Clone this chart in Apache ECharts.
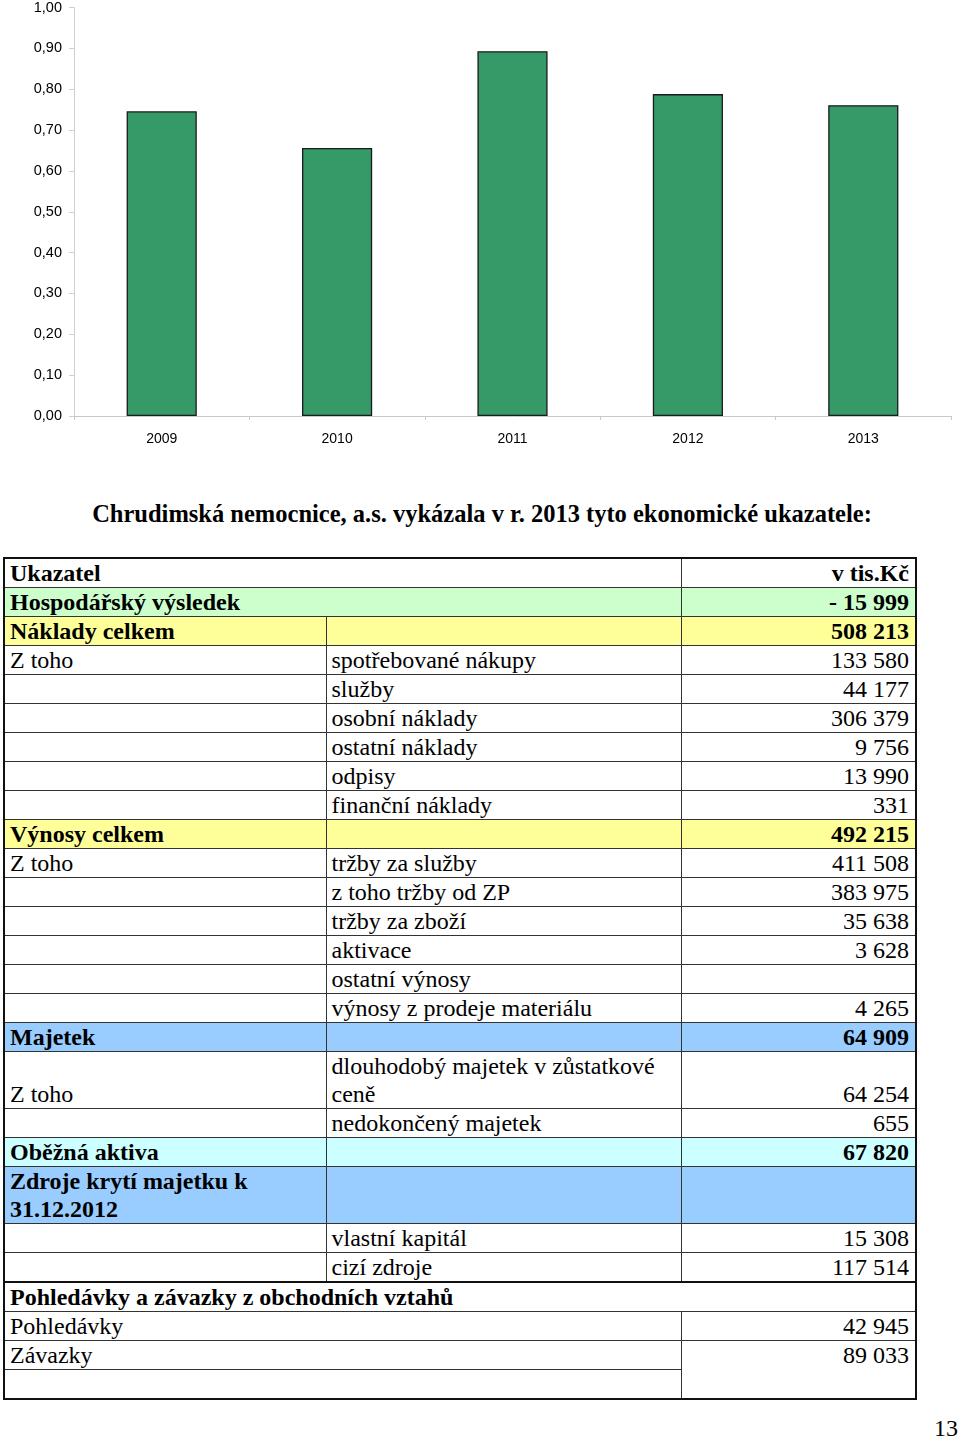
<!DOCTYPE html>
<html>
<head>
<meta charset="utf-8">
<title>Chrudimská nemocnice</title>
<script src="https://cdn.jsdelivr.net/npm/echarts/dist/echarts.min.js"></script>
<style>
  body { margin: 0; width: 960px; height: 1439px; position: relative; background: #fff; overflow: hidden; }
  #chart { position: absolute; left: 0; top: 0; width: 960px; height: 470px; }
  .title {
    position: absolute; left: 0; top: 500px; width: 964px; text-align: center;
    font: bold 24.5px "Liberation Serif", "Times New Roman", serif; color: #000;
  }
  table.data {
    position: absolute; left: 3px; top: 557px; width: 912px;
    border-collapse: collapse; table-layout: fixed;
    border: 2px solid #111;
    font: 24px "Liberation Serif", "Times New Roman", serif; color: #000;
  }
  table.data td {
    border: 1px solid #333; padding: 0 6px 0 5px; line-height: 28px; height: 28px;
    white-space: normal; overflow: hidden;
  }
  table.data td.num { text-align: right; }
  table.data tr.b td { font-weight: bold; }
  table.data tr.green td { background: #ccffcc; }
  table.data tr.yellow td { background: #ffff99; }
  table.data tr.blue td { background: #99ccff; }
  table.data tr.cyan td { background: #ccffff; }
  table.data tr.section td { border-top: 2px solid #111; }
  table.data td.bottom { vertical-align: bottom; }
  table.data td.top { vertical-align: top; }
  .page { position: absolute; right: 2px; top: 1415px; font: 24px "Liberation Serif", "Times New Roman", serif; }
</style>
</head>
<body>
<div id="chart"></div>
<div class="title">Chrudimská nemocnice, a.s. vykázala v r. 2013 tyto ekonomické ukazatele:</div>
<table class="data" id="tbl">
  <colgroup><col style="width:322px"><col style="width:355px"><col style="width:235px"></colgroup>
  <tbody></tbody>
</table>
<div class="page">13</div>

<script>
// bar chart data
const years = ['2009', '2010', '2011', '2012', '2013']
const ratios = [0.746, 0.656, 0.893, 0.788, 0.761]
const yMin = 0
const yMax = 1
const yStep = 0.1

// table data
const rowLabels = [
  'Ukazatel', 'Hospodářský výsledek', 'Náklady celkem', 'Z toho', '', '', '', '', '',
  'Výnosy celkem', 'Z toho', '', '', '', '', '',
  'Majetek', 'Z toho', '', 'Oběžná aktiva', 'Zdroje krytí majetku k 31.12.2012', '', '',
  'Pohledávky a závazky z obchodních vztahů', 'Pohledávky', 'Závazky', ''
]
const rowSubLabels = [
  '', '', '', 'spotřebované nákupy', 'služby', 'osobní náklady', 'ostatní náklady', 'odpisy', 'finanční náklady',
  '', 'tržby za služby', 'z toho tržby od ZP', 'tržby za zboží', 'aktivace', 'ostatní výnosy', 'výnosy z prodeje materiálu',
  '', 'dlouhodobý majetek v zůstatkové ceně', 'nedokončený majetek', '', '', 'vlastní kapitál', 'cizí zdroje',
  '', '', '', ''
]
const rowValues = [
  'v tis.Kč', '- 15 999', '508 213', '133 580', '44 177', '306 379', '9 756', '13 990', '331',
  '492 215', '411 508', '383 975', '35 638', '3 628', '', '4 265',
  '64 909', '64 254', '655', '67 820', '', '15 308', '117 514',
  '', '42 945', '89 033', ''
]
// row look: how cells merge and which fill they get
const rowKinds = [
  'head', 'green', 'yellow', '', '', '', '', '', '',
  'yellow', '', '', '', '', '', '',
  'blue', 'tall', '', 'cyan', 'blueTall', '', '',
  'section', 'wide', 'wideTop', 'wideEnd'
]

function buildTable() {
  const body = document.querySelector('#tbl tbody')
  rowLabels.forEach(function(label, i) {
    const kind = rowKinds[i]
    const tr = document.createElement('tr')
    if (['head', 'green', 'yellow', 'blue', 'cyan', 'blueTall', 'section'].indexOf(kind) >= 0) tr.className = 'b'
    if (kind === 'green') tr.classList.add('green')
    if (kind === 'yellow') tr.classList.add('yellow')
    if (kind === 'blue' || kind === 'blueTall') tr.classList.add('blue')
    if (kind === 'cyan') tr.classList.add('cyan')
    if (kind === 'section') tr.classList.add('section')

    const a = document.createElement('td')
    a.textContent = label
    tr.appendChild(a)
    if (kind === 'section') {
      a.colSpan = 3
      body.appendChild(tr)
      return
    }
    if (['head', 'green', 'wide', 'wideTop', 'wideEnd'].indexOf(kind) >= 0) {
      a.colSpan = 2
    } else {
      const b = document.createElement('td')
      b.textContent = rowSubLabels[i]
      tr.appendChild(b)
      if (kind === 'tall') { a.className = 'bottom' }
    }
    if (kind !== 'wideEnd') {
      const c = document.createElement('td')
      c.className = 'num'
      c.textContent = rowValues[i]
      if (kind === 'tall') c.className = 'num bottom'
      if (kind === 'wideTop') { c.rowSpan = 2; c.className = 'num top' }
      tr.appendChild(c)
    }
    body.appendChild(tr)
  })
}
buildTable()

const chart = echarts.init(document.getElementById('chart'))
chart.setOption({
  animation: false,
  grid: { left: 74, right: 9, top: 6, height: 410, containLabel: false },
  xAxis: {
    type: 'category',
    data: years,
    axisLine: { lineStyle: { color: '#c8c8c8', width: 1 } },
    axisTick: { show: true, length: 4, lineStyle: { color: '#c8c8c8' } },
    axisLabel: { color: '#000', fontSize: 14, fontFamily: 'Liberation Sans, Arial, sans-serif', margin: 16 }
  },
  yAxis: {
    type: 'value',
    min: yMin,
    max: yMax,
    interval: yStep,
    axisLine: { show: true, lineStyle: { color: '#d0d0d0' } },
    axisTick: { show: true, length: 5, lineStyle: { color: '#d0d0d0' } },
    splitLine: { show: false },
    axisLabel: {
      color: '#000', fontSize: 14.5, fontFamily: 'Liberation Sans, Arial, sans-serif', margin: 12,
      formatter: function(v) { return v.toFixed(2).replace('.', ',') }
    }
  },
  series: [
    {
      type: 'bar',
      data: ratios,
      barCategoryGap: '60%',
      itemStyle: { color: '#359a68', borderColor: '#1b1b1b', borderWidth: 1.3 }
    }
  ]
})
</script>
</body>
</html>
